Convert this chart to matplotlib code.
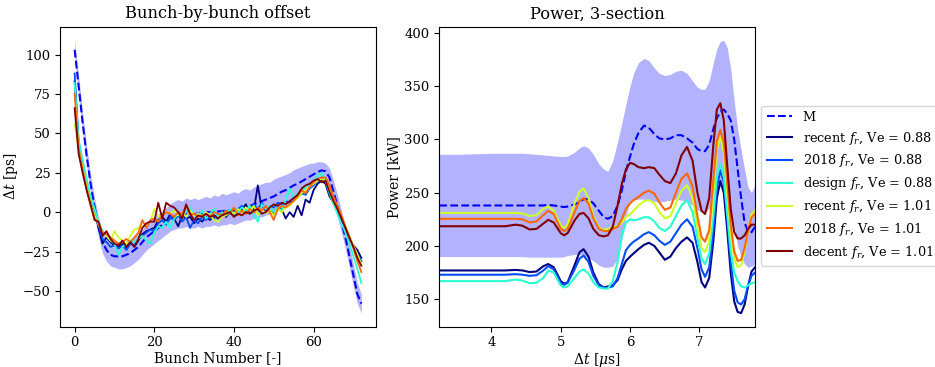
import numpy as np
import matplotlib
matplotlib.use('Agg')
import matplotlib.pyplot as plt
from matplotlib.ticker import MultipleLocator

plt.rcParams['font.family'] = 'serif'
plt.rcParams['font.serif'] = ['DejaVu Serif']
plt.rcParams['mathtext.fontset'] = 'dejavuserif'

labels = ['recent $f_r$, Ve = 0.88', '2018 $f_r$, Ve = 0.88', 'design $f_r$, Ve = 0.88',
          'recent $f_r$, Ve = 1.01', '2018 $f_r$, Ve = 1.01', 'decent $f_r$, Ve = 1.01']

# ---------------- bunch-by-bunch offset [ps] ----------------
bunch = list(range(73))

m_off = [103, 80, 57, 36, 18, 3, -10, -19, -24, -27,
         -28, -28, -28, -27, -26, -24, -22, -19, -16, -14,
         -12, -10, -8, -6, -4, -3, -2, -1.5, -1, -1,
         -1, -1, -0.5, 0, 0, 0, 0.5, 0.5, 1, 1,
         1, 1.5, 2, 3, 4, 5, 6, 7, 8, 9,
         10, 11.5, 13, 14, 15.5, 17, 18, 19.5, 21, 22.5,
         24, 25.5, 26.5, 26, 22, 13, 4, -6, -16, -28,
         -40, -52, -58]
m_off_hi = [109, 86, 63, 42, 24, 9, -4, -12, -17, -19,
            -20, -19, -20, -18, -17, -15, -13, -11, -7, -5,
            -3, -1, 1, 3, 5, 7, 8, 7, 9, 8,
            9, 8, 9, 10, 9, 11, 10, 12, 11, 12,
            13, 12, 14, 15, 14, 16, 17, 18, 19, 19,
            21, 22, 23, 24, 25, 27, 28, 29, 30, 31,
            31, 32, 32, 31, 28, 20, 11, 1, -9, -21,
            -33, -45, -52]
m_off_lo = [98, 74, 51, 30, 12, -3, -16, -26, -31, -34,
            -35, -36, -36, -35, -34, -32, -30, -27, -24, -22,
            -20, -18, -16, -14, -12, -11, -10, -10, -9, -10,
            -10, -9, -10, -9, -9, -8, -9, -8, -8, -7,
            -8, -7, -6, -5, -5, -4, -3, -3, -2, -1,
            0, 1, 3, 4, 6, 8, 9, 11, 13, 15,
            17, 19, 21, 20, 16, 6, -3, -13, -23, -35,
            -47, -58, -64]

off_recent_088 = [83, 42, 30, 18, 8, -2, -9, -20, -16, -19,
                  -21, -22, -20, -23, -19, -22, -18, -14, -12, -11,
                  -10, -5, -3, -6, -1, -4, -9, -2, -4, -3,
                  -7, -4, -6, -3, -5, -2, -4, -1, -3, 0,
                  -2, 1, 2, 5, -1, 1, 17, 2, 0, 1,
                  -1, 3, 2, -4, 0, -3, 4, -2, 8, 6,
                  14, 18, 20, 18, 10, 6, 3, -3, -10, -17,
                  -21, -24, -29]
off_2018_088 = [88, 45, 32, 20, 8, 4, -8, -17, -19, -22,
                -21, -23, -21, -24, -20, -21, -17, -15, -13, -11,
                -12, -7, -5, -8, -3, -5, -2, -6, -3, -10,
                -5, -7, -3, -5, -2, -4, -1, -2, 1, -1,
                0, 2, 4, 1, 3, 5, 2, 6, 1, 4,
                3, 6, 5, 7, 6, 9, 10, 12, 11, 15,
                17, 20, 22, 20, 12, 6, 1, -4, -10, -16,
                -22, -27, -31]
off_design_088 = [82, 46, 33, 21, 10, 2, -6, -12, -15, -18,
                  -20, -27, -22, -20, -18, -19, -17, -15, -18, -20,
                  -13, -9, -10, -6, -10, -4, -1, -3, 0, 3,
                  -2, -3, 1, -4, -1, 2, -3, 0, -1, 2,
                  -1, 0, 3, 1, 4, -2, -6, 5, 2, 4,
                  0, 3, 1, 8, 15, 9, 12, 14, 16, 18,
                  20, 23, 25, 20, 12, 5, -1, -7, -13, -20,
                  -28, -36, -45]
off_recent_101 = [56, 40, 28, 16, 6, -2, -8, -13, -15, -18,
                  -12, -16, -18, -20, -15, -11, -10, -9, -8, -6,
                  2, -3, -1, 0, -1, 1, -2, 0, -3, 1,
                  -2, -1, -3, 0, -2, -5, -6, -3, -2, 0,
                  -1, 2, 0, 3, 1, 4, -2, 2, -1, 1,
                  -2, 2, 0, 3, 4, 7, 9, 12, 14, 16,
                  18, 20, 21, 20, 14, 7, 2, -3, -9, -15,
                  -21, -27, -33]
off_2018_101 = [75, 40, 27, 15, 4, -4, -7, -13, -14, -16,
                -18, -20, -19, -17, -19, -16, -13, -5, -10, -5,
                -4, -6, -2, 0, -1, -3, 0, -1, 4, -2,
                -1, -3, -2, -1, -3, 0, -1, -2, 1, -1,
                3, -2, 1, -1, 2, 0, 3, 1, 4, 0,
                -5, 2, 4, 3, 5, 7, 10, 14, 12, 16,
                19, 21, 22, 22, 17, 10, 4, -2, -9, -16,
                -23, -31, -38]
off_decent_101 = [66, 37, 25, 14, 5, -5, -6, -15, -12, -17,
                  -20, -21, -18, -22, -19, -22, -17, -10, -7, -6,
                  -6, 6, -4, 6, 4, 3, 0, -4, 5, -1,
                  -5, -2, -3, -1, -3, -2, -4, -2, -1, 0,
                  -3, -1, -2, 0, -1, 1, 2, -1, 0, 3,
                  5, 4, 6, 5, 7, 9, 11, 15, 17, 18,
                  20, 21, 19, 20, 13, 7, 2, -4, -10, -16,
                  -22, -29, -34]

# ---------------- power, 3-section [kW] ----------------
t_us = [3.25, 3.5, 3.75, 4.0, 4.2, 4.35, 4.45, 4.55, 4.65, 4.75,
        4.82, 4.9, 5.0, 5.05, 5.1, 5.2, 5.27, 5.33, 5.4, 5.47,
        5.55, 5.62, 5.68, 5.75, 5.82, 5.88, 5.94, 6.0, 6.05, 6.12,
        6.2, 6.27, 6.35, 6.42, 6.5, 6.58, 6.66, 6.74, 6.82, 6.9,
        6.97, 7.03, 7.08, 7.14, 7.2, 7.25, 7.3, 7.35, 7.4, 7.45,
        7.5, 7.55, 7.6, 7.65, 7.7, 7.75, 7.8]

m_pow = [238, 238, 238, 238, 238, 238, 238, 238, 238, 238,
         238.5, 238, 237, 236.5, 237, 239, 241, 244, 244, 240,
         233, 227, 225.5, 228, 238, 252, 270, 284, 295, 306,
         313, 311, 305, 301, 300, 301, 304, 304, 301, 297,
         291, 289, 289, 295, 310, 320, 326, 328, 324, 318,
         300, 272, 245, 222, 213, 213, 218]
m_pow_hi = [286, 286, 286.5, 287, 287, 287, 287, 286.5, 286, 285.5,
            285, 284.5, 284, 284, 284.5, 288, 292, 294, 292, 286,
            277, 272, 270, 280, 298, 315, 333, 350, 362, 372,
            376, 374, 367, 362, 360, 361, 364, 365, 362, 355,
            349, 347, 347, 355, 372, 385, 392, 393, 386, 366,
            336, 310, 290, 272, 255, 250, 258]
m_pow_lo = [190, 190, 190, 190, 190, 190, 190, 189.5, 189.5, 189.5,
            189.5, 189.5, 189.5, 190, 191, 192, 192, 191, 189, 186,
            182, 180, 180, 181, 188, 205, 228, 242, 243, 244,
            244, 243, 242, 241, 242, 243, 244, 243, 241, 238,
            234, 232, 232, 235, 242, 250, 256, 258, 250, 235,
            218, 200, 190, 183, 180, 181, 183]

pow_recent_088 = [177, 177, 177, 177, 177, 177.5, 177, 175.5, 176, 181,
                  183, 180, 167, 164.5, 166, 182, 194, 197, 190, 175,
                  164, 161, 162, 163, 168, 178, 186, 190, 193, 197,
                  201, 203, 200, 194, 187, 190, 198, 204, 208, 203,
                  185, 166, 161, 170, 205, 245, 261, 250, 215, 175,
                  148, 138, 137, 145, 162, 176, 180]
pow_2018_088 = [173, 173, 173, 173, 173, 173.5, 173, 172, 172.5, 177,
                181, 178, 165, 163.5, 165.5, 178, 188, 191, 185, 172,
                163, 161, 161, 162, 170, 183, 196, 201, 204, 207,
                211, 213, 210, 205, 201, 204, 212, 220, 225, 218,
                198, 178, 171, 180, 215, 255, 271, 260, 225, 185,
                158, 147, 145, 150, 163, 172, 175]
pow_design_088 = [167, 167, 167, 167, 167, 168.5, 167.5, 165, 165.5, 170,
                  177, 175, 163, 161, 162, 170, 176, 178, 174, 166,
                  161, 160, 160, 167, 185, 210, 222, 225, 224, 225,
                  227, 227, 223, 217, 214, 218, 228, 238, 243, 232,
                  208, 188, 183, 193, 228, 265, 277, 265, 230, 195,
                  175, 167, 162, 161, 163, 165, 166]
pow_recent_101 = [231, 231, 231, 231, 231, 231, 230.5, 228, 229, 235,
                  237, 233, 219, 217, 220, 240, 251, 254, 245, 228,
                  217, 215, 216, 217, 219, 222, 227, 230, 233, 238,
                  242, 243, 240, 232, 226, 228, 240, 252, 257, 245,
                  218, 198, 194, 205, 250, 290, 302, 288, 250, 212,
                  188, 180, 182, 195, 215, 230, 233]
pow_2018_101 = [225.5, 225.5, 225.5, 225.5, 225.5, 225.5, 225, 222, 223, 229,
                233, 230, 216, 214, 216, 232, 242, 245, 240, 226,
                216, 214, 214, 216, 218, 225, 235, 240, 243, 246,
                250, 252, 249, 241, 234, 236, 250, 263, 268, 256,
                228, 208, 204, 215, 262, 298, 309, 297, 260, 220,
                195, 186, 187, 198, 215, 227, 230]
pow_decent_101 = [218.5, 218.5, 218.5, 218.5, 218.5, 220, 219, 215.5, 216, 221,
                  224.5, 222, 212, 210, 212, 224, 230, 231, 226, 216,
                  210, 209, 210, 218, 238, 258, 272, 278, 277, 274,
                  273, 274, 273, 267, 261, 259, 268, 285, 293, 280,
                  250, 233, 230, 245, 295, 328, 334, 318, 275, 235,
                  213, 207, 207, 210, 216, 220, 220]

offsets = [off_recent_088, off_2018_088, off_design_088,
           off_recent_101, off_2018_101, off_decent_101]
powers = [pow_recent_088, pow_2018_088, pow_design_088,
          pow_recent_101, pow_2018_101, pow_decent_101]
colors = plt.cm.jet(np.linspace(0, 1, 6))

fig = plt.figure(figsize=(9.35, 3.67), dpi=100)
ax1 = fig.add_axes([0.0645, 0.1098, 0.3373, 0.8174])
ax2 = fig.add_axes([0.4698, 0.1098, 0.3377, 0.8174])

ax1.fill_between(bunch, m_off_lo, m_off_hi, color='b', alpha=0.3, lw=0)
ax1.plot(bunch, m_off, 'b--', lw=1.5, label='M')
for i in range(6):
    ax1.plot(bunch, offsets[i], color=colors[i], lw=1.3, label=labels[i])
ax1.xaxis.set_major_locator(MultipleLocator(20))
ax1.set_title('Bunch-by-bunch offset', fontsize=11.7)
ax1.set_xlabel('Bunch Number [-]', fontsize=10, labelpad=1)
ax1.set_ylabel(r'$\Delta t$ [ps]', fontsize=10, labelpad=2)
ax1.tick_params(labelsize=9.5)

ax2.fill_between(t_us, m_pow_lo, m_pow_hi, color='b', alpha=0.3, lw=0)
ax2.plot(t_us, m_pow, 'b--', lw=1.5, label='M')
for i in range(6):
    ax2.plot(t_us, powers[i], color=colors[i], lw=1.5, label=labels[i])
ax2.set_xlim(3.25, 7.8)
ax2.set_title('Power, 3-section', fontsize=11.7)
ax2.set_xlabel(r'$\Delta t$ [$\mu$s]', fontsize=10, labelpad=1)
ax2.set_ylabel('Power [kW]', fontsize=10, labelpad=2)
ax2.tick_params(labelsize=9.5)
ax2.legend(loc='center left', bbox_to_anchor=(1.0, 0.47), fontsize=9.3,
           labelspacing=0.45)

plt.savefig('out.png', dpi=100)
